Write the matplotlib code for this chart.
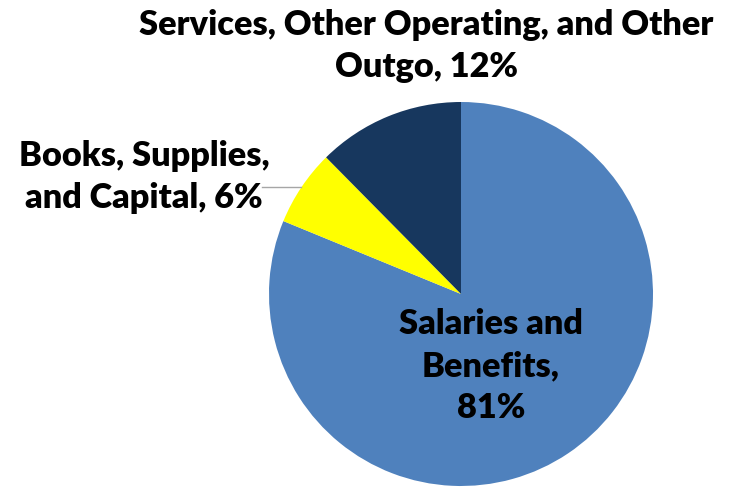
import matplotlib
matplotlib.use('Agg')
import matplotlib.pyplot as plt

# data
labels = ['Salaries and\nBenefits,\n81%',
          'Books, Supplies,\nand Capital, 6%',
          'Services, Other Operating, and Other\nOutgo, 12%']
values = [81.2, 6.4, 12.4]
colors = ['#4F81BD', '#FFFF00', '#17375E']

plt.rcParams['font.family'] = ['Lato', 'DejaVu Sans']

W, H = 732, 489
cx, cy, r = 461, 295, 192

fig = plt.figure(figsize=(W / 100, H / 100), dpi=100)
ax = fig.add_axes([0, 0, 1, 1])
ax.pie(values, colors=colors, startangle=90, counterclock=False,
       radius=1, center=(0, 0), wedgeprops=dict(linewidth=0))
ax.set_xlim(-cx / r, (W - cx) / r)
ax.set_ylim(-(H - cy) / r, cy / r)
ax.set_aspect('equal')
ax.axis('off')


def px(x, y):
    return (x - cx) / r, (cy - y) / r


fs = 24.7
kw = dict(fontsize=fs, fontweight='heavy', ha='center', va='baseline',
          linespacing=1.39, color='black')
# positions are last-line baselines
ax.text(*px(491, 418), labels[0], **kw)
ax.text(*px(144, 208), labels[1], **kw)
ax.text(*px(426, 77), labels[2], **kw)

# leader line for the small slice
x0, y0 = px(262, 188)
x1, y1 = px(301, 188)
ax.plot([x0, x1], [y0, y1], color='#A6A6A6', lw=1)

fig.savefig('out.png', dpi=100)
